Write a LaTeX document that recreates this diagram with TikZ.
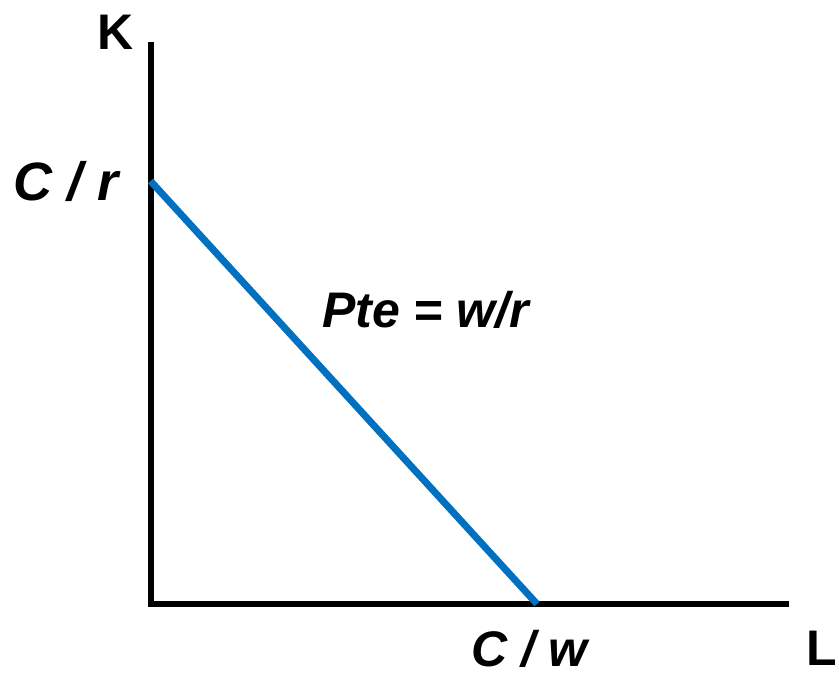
\documentclass[tikz,border=0pt]{standalone}
\usepackage{fontspec}
\setmainfont{Liberation Sans}
\definecolor{lineblue}{RGB}{0,112,192}
\begin{document}
\begin{tikzpicture}[x=1pt,y=-1pt,
  axis/.style={line width=6pt,black},
  budget/.style={line width=7pt,lineblue},
  lbl/.style={inner sep=0pt,anchor=base west,font=\fontsize{50}{60}\selectfont\bfseries\itshape},
  axlbl/.style={inner sep=0pt,anchor=base west,font=\fontsize{50}{60}\selectfont\bfseries}]
\useasboundingbox (0,0) rectangle (839,677);
\coordinate (O) at (150.5,604);
\coordinate (Ktop) at (150.5,42);
\coordinate (Lend) at (789,604);
\coordinate (A) at (150.5,181);
\coordinate (B) at (537,604);
\draw[axis] (Ktop) -- (150.5,607) ;
\draw[axis] (147.5,604) -- (Lend);
\draw[budget] (A) -- (B);
\node[axlbl] (K) at (97,50) {K};
\node[axlbl] (L) at (806,665) {L};
\node[lbl,font=\fontsize{54}{64}\selectfont\bfseries\itshape] (cr) at (13,200) {C / r};
\node[lbl] (pte) at (322,327) {Pte = w/r};
\node[lbl] (cw) at (471,666) {C / w};
\end{tikzpicture}
\end{document}
